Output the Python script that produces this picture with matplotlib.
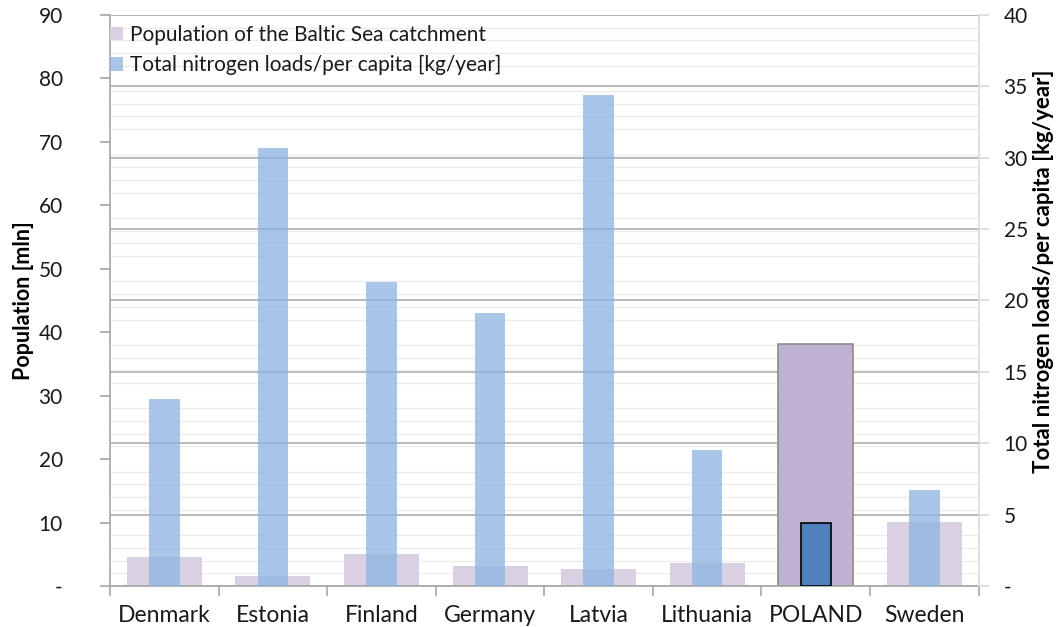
import matplotlib.pyplot as plt
from matplotlib.colors import to_rgba
from matplotlib.patches import Patch
from matplotlib.ticker import MultipleLocator, FixedLocator

plt.rcParams['font.family'] = ['Lato', 'DejaVu Sans']
plt.rcParams['axes.unicode_minus'] = False

countries = ['Denmark', 'Estonia', 'Finland', 'Germany', 'Latvia',
             'Lithuania', 'POLAND', 'Sweden']
population = [4.5, 1.6, 5.0, 3.1, 2.7, 3.7, 38.1, 10.1]          # mln
nitrogen_per_capita = [13.1, 30.7, 21.3, 19.1, 34.4, 9.5, 4.4, 6.7]  # kg/year
highlight = 'POLAND'

pop_ticks = [0, 10, 20, 30, 40, 50, 60, 70, 80, 90]
pop_tick_labels = ['-', '10', '20', '30', '40', '50', '60', '70', '80', '90']
nit_ticks = [0, 5, 10, 15, 20, 25, 30, 35, 40]
nit_tick_labels = ['-', '5', '10', '15', '20', '25', '30', '35', '40']

pop_color = '#d9d0e3'
pop_color_hl = '#bfb1d0'
nit_color = to_rgba('#8db4e2', 0.75)
nit_color_hl = '#4f81bd'
text_color = '#1a1a1a'

x = list(range(len(countries)))
is_hl = [c == highlight for c in countries]

fig = plt.figure(figsize=(10.58, 6.27), dpi=100)
rect = [0.104, 0.0654, 0.821, 0.9107]

# background axes only carries the dark gridlines of the right scale
bg = fig.add_axes(rect)
bg.set_zorder(-1)
bg.set_xlim(-0.5, len(countries) - 0.5)
bg.set_ylim(0, 40)
bg.set_yticks(nit_ticks)
bg.yaxis.grid(True, color='#a6a6a6', linewidth=1.1)
bg.tick_params(left=False, bottom=False, labelleft=False, labelbottom=False)
for s in bg.spines.values():
    s.set_visible(False)

ax = fig.add_axes(rect)
ax.patch.set_visible(False)
ax2 = ax.twinx()

# population bars (left scale)
ax.bar(x, population, width=0.69,
       color=[pop_color_hl if h else pop_color for h in is_hl],
       edgecolor=['#8c8c8c' if h else (0, 0, 0, 0) for h in is_hl],
       linewidth=1.2, zorder=2)

# nitrogen bars (right scale)
ax2.bar(x, nitrogen_per_capita, width=0.28,
        color=[nit_color_hl if h else nit_color for h in is_hl],
        edgecolor=['black' if h else (0, 0, 0, 0) for h in is_hl],
        linewidth=1.2, zorder=2)

ax.set_xlim(-0.5, len(countries) - 0.5)
ax.set_ylim(0, 90)
ax2.set_ylim(0, 40)

# light gridlines every 2 mln
ax.yaxis.set_minor_locator(MultipleLocator(2))
ax.yaxis.grid(True, which='minor', color='#ececec', linewidth=1.0)
ax.set_axisbelow(True)

ax.set_yticks(pop_ticks)
ax.set_yticklabels(pop_tick_labels)
ax2.set_yticks(nit_ticks)
ax2.set_yticklabels(nit_tick_labels)

ax.set_xticks(x)
ax.set_xticklabels(countries)
ax.xaxis.set_minor_locator(FixedLocator([i - 0.5 for i in range(len(countries) + 1)]))
ax.tick_params(axis='x', which='major', length=0, pad=14, labelsize=16.5,
               labelcolor=text_color)
ax.tick_params(axis='x', which='minor', length=7, color='#a6a6a6', width=1.2)
ax.tick_params(axis='y', which='major', length=7, color='#a6a6a6', width=1.2,
               labelsize=15, labelcolor=text_color, pad=27)
ax.tick_params(axis='y', which='minor', length=0)
ax2.tick_params(axis='y', length=7, color='#d9d9d9', width=1.2,
                labelsize=15, labelcolor=text_color, pad=11)

for s in ['top', 'right']:
    ax.spines[s].set_visible(False)
for s in ['top', 'left', 'bottom']:
    ax2.spines[s].set_visible(False)
ax.spines['left'].set_color('#a6a6a6')
ax.spines['left'].set_linewidth(1.2)
ax.spines['bottom'].set_color('#a6a6a6')
ax.spines['bottom'].set_linewidth(1.2)
ax2.spines['right'].set_color('#d9d9d9')
ax2.spines['right'].set_linewidth(1.2)

ax.set_ylabel('Population [mln]', fontsize=15.5, fontweight='bold', color='black')
ax.yaxis.set_label_coords(-0.088, 0.5)
ax2.set_ylabel('Total nitrogen loads/per capita [kg/year]', fontsize=16,
               fontweight='bold', color='black')
ax2.yaxis.set_label_coords(1.062, 0.552)

handles = [Patch(facecolor=pop_color, edgecolor='none',
                 label='Population of the Baltic Sea catchment'),
           Patch(facecolor=nit_color, edgecolor='none',
                 label='Total nitrogen loads/per capita [kg/year]')]
ax2.legend(handles=handles, loc='upper left', bbox_to_anchor=(0.0, 0.983),
           frameon=False, fontsize=15, handlelength=0.6, handleheight=0.6,
           handletextpad=0.35, labelspacing=0.5, borderaxespad=0,
           borderpad=0, labelcolor=text_color)

fig.savefig('out.png', dpi=100, facecolor='white')
